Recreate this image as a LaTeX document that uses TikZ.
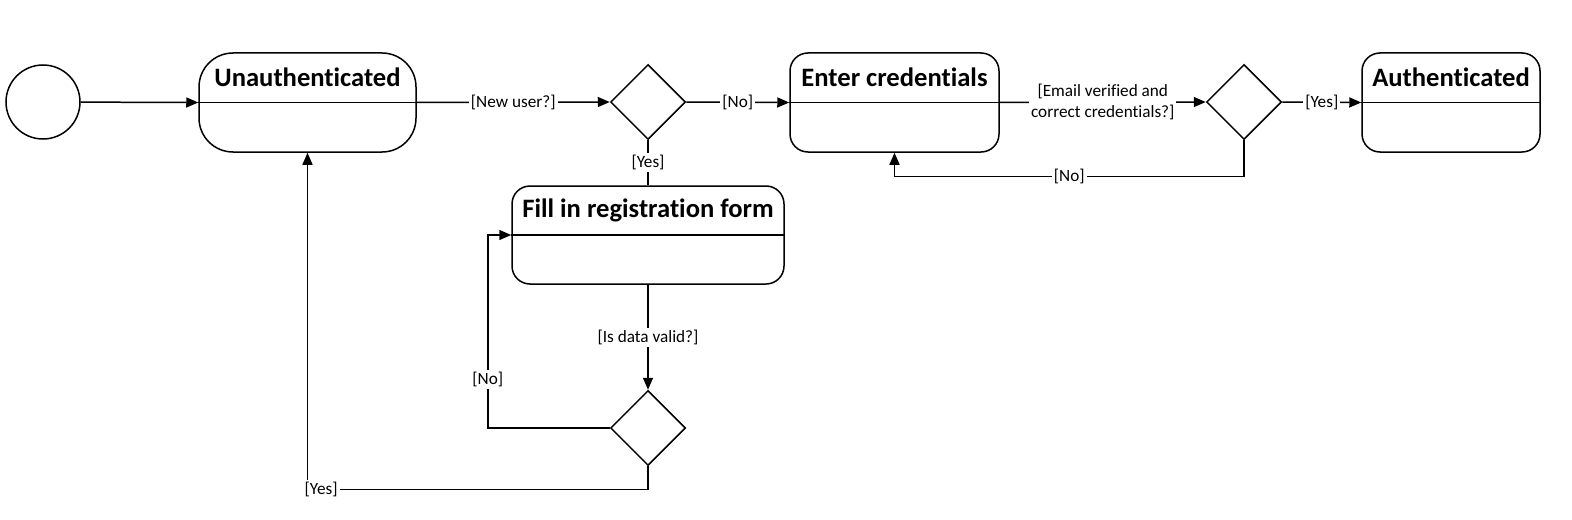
\documentclass[tikz,border=0pt]{standalone}
\usepackage{fontspec}
\setmainfont{Carlito}[Ligatures={NoCommon,NoRequired,NoContextual}]
\usetikzlibrary{arrows.meta,positioning,shapes.geometric,calc}

\begin{document}
\begin{tikzpicture}[
  x=0.5pt, y=-0.5pt,
  >={Triangle[length=6pt,width=5pt]},
  line width=0.75pt,
  state/.style={draw, rectangle, rounded corners=9pt, minimum height=49.5pt, inner sep=0pt},
  title/.style={font=\fontsize{13.3}{15}\selectfont\bfseries},
  choice/.style={draw, diamond, aspect=1, minimum width=37.5pt, minimum height=37.5pt, inner sep=0pt},
  guard/.style={font=\fontsize{8.6}{10.5}\selectfont, fill=white, inner sep=1pt, align=center}
]
\useasboundingbox (0,0) rectangle (1572,519);

% Initial state
\node[draw, circle, minimum size=37pt, inner sep=0pt] (start) at (43,102) {};

% States
\node[state, rounded corners=17pt, minimum width=108.5pt] (unauth) at (307.5,102.5) {};
\node[state, minimum width=104.5pt] (enter) at (894.5,102.5) {};
\node[state, minimum width=89pt] (auth) at (1451,102.5) {};
\node[state, minimum width=136pt, minimum height=49pt] (form) at (648,235) {};

% State titles and dividers
\foreach \s/\t in {unauth/Unauthenticated, enter/Enter credentials, auth/Authenticated, form/Fill in registration form} {
  \node[title] at ($(\s.center)!0.5!(\s.north)$) {\t};
  \draw (\s.west) -- (\s.east);
}

% Decisions
\node[choice] (d1) at (648,102) {};
\node[choice] (d2) at (1244,102) {};
\node[choice] (d3) at (648,428) {};

% Main flow
\draw[->] (start) -- (unauth.west);
\draw[->] (unauth.east) -- (d1.west) node[midway, guard] {[New user?]};
\draw[->] (d1.east) -- (enter.west) node[midway, guard] {[No]};
\draw[->] (enter.east) -- (d2.west)
  node[midway, guard] {[Email verified and\\correct credentials?]};
\draw[->] (d2.east) -- (auth.west) node[midway, guard] {[Yes]};

% Wrong credentials
\draw[->] (d2.south) -- ++(0,36) -| (enter.south) node[pos=0.25, guard] {[No]};

% Registration
\draw (d1.south) -- (form.north) node[midway, guard] {[Yes]};
\draw[->] (form.south) -- (d3.north) node[midway, guard] {[Is data valid?]};
\draw[->] (d3.west) -- ++(-122,0) |- (form.west) node[pos=0.125, guard] {[No]};
\draw[->] (d3.south) -- ++(0,23) -| (unauth.south) node[pos=0.48, guard] {[Yes]};

\end{tikzpicture}
\end{document}
